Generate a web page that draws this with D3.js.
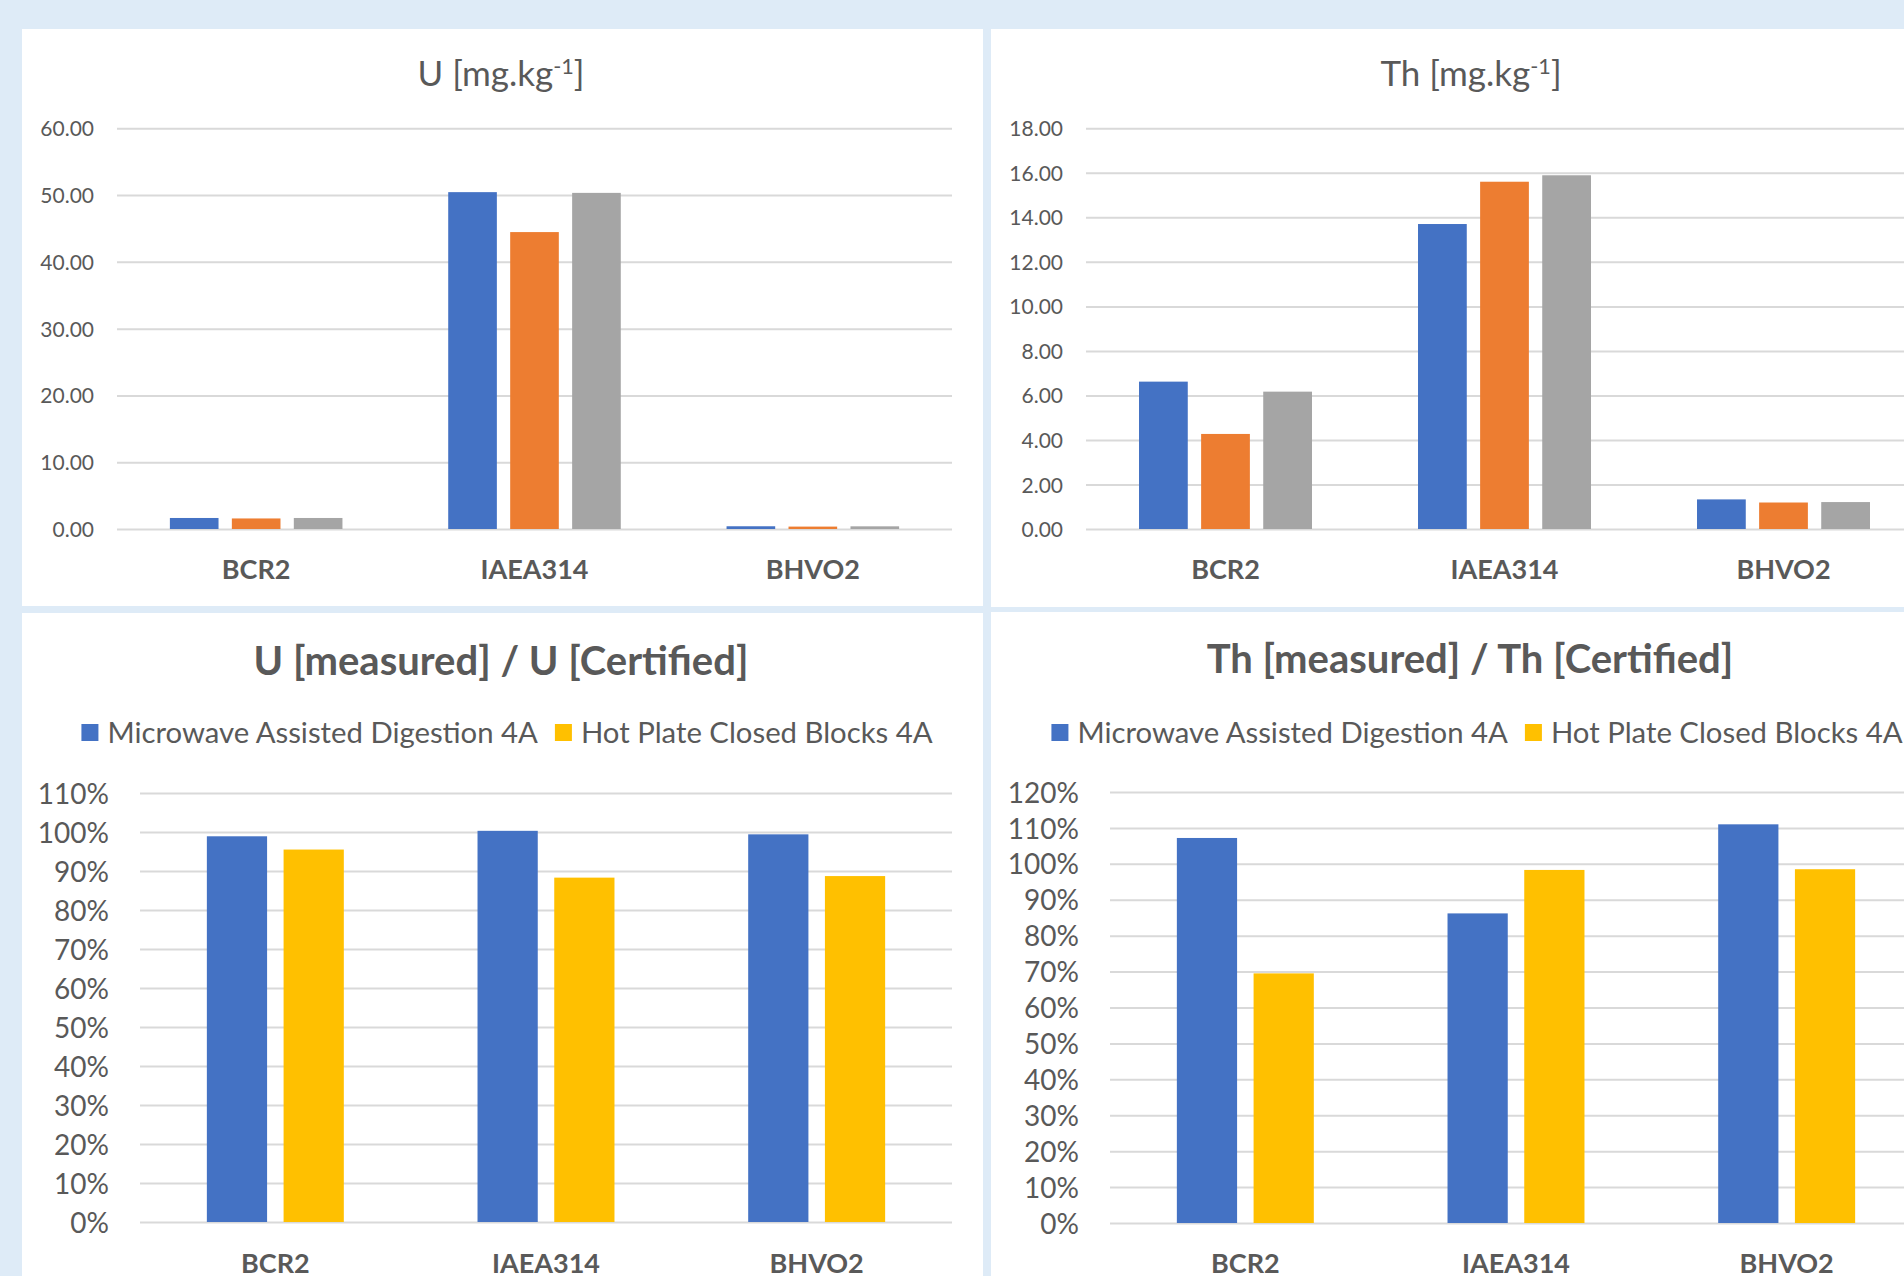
<!DOCTYPE html>
<html>
<head>
<meta charset="utf-8">
<script src="https://cdn.jsdelivr.net/npm/d3@7"></script>
<style>
  html, body { margin: 0; padding: 0; background: #DEEBF7; }
  svg { display: block; }
  text { font-family: Lato, "Open Sans", sans-serif; fill: #595959; }
</style>
</head>
<body>
<svg id="chart" width="1904" height="1276"></svg>
<script>
// ---------------- DATA ----------------
const categories = ["BCR2", "IAEA314", "BHVO2"];

// U [mg.kg-1]
const uMicrowave  = [1.65, 50.44, 0.41];
const uHotPlate   = [1.58, 44.46, 0.36];
const uCertified  = [1.65, 50.33, 0.40];

// Th [mg.kg-1]
const thMicrowave = [6.62, 13.70, 1.33];
const thHotPlate  = [4.27, 15.60, 1.19];
const thCertified = [6.17, 15.89, 1.21];

// U [measured] / U [Certified]
const uRatioMicrowave = [0.989, 1.003, 0.994];
const uRatioHotPlate  = [0.955, 0.883, 0.887];

// Th [measured] / Th [Certified]
const thRatioMicrowave = [1.072, 0.862, 1.110];
const thRatioHotPlate  = [0.695, 0.983, 0.985];

const seriesNames = ["Microwave Assisted Digestion 4A", "Hot Plate Closed Blocks 4A", "Certified"];

const uTicks  = [0, 10, 20, 30, 40, 50, 60];
const thTicks = [0, 2, 4, 6, 8, 10, 12, 14, 16, 18];
const uRatioTicks  = [0, 0.1, 0.2, 0.3, 0.4, 0.5, 0.6, 0.7, 0.8, 0.9, 1.0, 1.1];
const thRatioTicks = [0, 0.1, 0.2, 0.3, 0.4, 0.5, 0.6, 0.7, 0.8, 0.9, 1.0, 1.1, 1.2];

// ---------------- STYLE ----------------
const colors3 = ["#4472C4", "#ED7D31", "#A5A5A5"];
const colors2 = ["#4472C4", "#FFC000"];
const gridColor = "#D9D9D9";
const textColor = "#595959";

const svg = d3.select("#chart");
svg.append("rect").attr("x", 0).attr("y", 0).attr("width", 1904).attr("height", 1276).attr("fill", "#DEEBF7");

function drawPanel(cfg) {
  const g = svg.append("g");
  // panel background
  g.append("rect")
    .attr("x", cfg.panel[0]).attr("y", cfg.panel[1])
    .attr("width", cfg.panel[2]).attr("height", cfg.panel[3])
    .attr("fill", "#FFFFFF");

  const x0 = d3.scaleBand().domain(categories).range(cfg.xRange).paddingInner(0).paddingOuter(0);
  const y = d3.scaleLinear().domain([0, cfg.ticks[cfg.ticks.length - 1]]).range(cfg.yRange);

  const groupW = x0.bandwidth() * cfg.groupFrac;
  const x1 = d3.scaleBand().domain(d3.range(cfg.series.length)).range([0, groupW]).paddingInner(0.215).paddingOuter(0);

  // gridlines + y tick labels
  const yAxis = d3.axisLeft(y)
    .tickValues(cfg.ticks)
    .tickFormat(cfg.fmt)
    .tickSize(-(cfg.xRange[1] - cfg.xRange[0]))
    .tickPadding(cfg.yPad);
  const ya = g.append("g").attr("transform", `translate(${cfg.xRange[0]},0)`).call(yAxis);
  ya.select(".domain").remove();
  ya.selectAll(".tick line").attr("stroke", gridColor).attr("stroke-width", 2);
  ya.selectAll(".tick text")
    .attr("fill", textColor)
    .attr("font-family", "Lato, sans-serif")
    .attr("font-size", cfg.yFont)
    .attr("dy", "0.36em");

  // bars
  cfg.series.forEach((vals, si) => {
    g.append("g").selectAll("rect")
      .data(vals.map((v, i) => ({ cat: categories[i], v })))
      .join("rect")
      .attr("x", d => x0(d.cat) + (x0.bandwidth() - groupW) / 2 + x1(si))
      .attr("width", x1.bandwidth())
      .attr("y", d => y(d.v))
      .attr("height", d => y(0) - y(d.v))
      .attr("fill", cfg.colors[si]);
  });

  // category labels
  const xAxis = d3.axisBottom(x0).tickSize(0).tickPadding(0);
  const xa = g.append("g").attr("transform", `translate(0,${cfg.catY})`).call(xAxis);
  xa.select(".domain").remove();
  xa.selectAll(".tick text")
    .attr("fill", textColor)
    .attr("font-family", "Lato, sans-serif")
    .attr("font-weight", "bold")
    .attr("font-size", cfg.catFont)
    .attr("dy", 0)
    .attr("y", 0);

  // title
  const t = g.append("text")
    .attr("x", cfg.titleX).attr("y", cfg.titleY)
    .attr("text-anchor", "middle")
    .attr("font-size", cfg.titleFont)
    .attr("font-weight", cfg.titleBold ? "bold" : "normal")
    .attr("fill", textColor);
  cfg.title.forEach(part => {
    const ts = t.append("tspan").text(part.t);
    if (part.sup) ts.attr("font-size", cfg.titleFont * 0.62).attr("baseline-shift", "55%");
  });

  // legend
  if (cfg.legend) {
    const lg = g.append("g");
    let cx = 0;
    cfg.legend.forEach((name, i) => {
      const it = lg.append("g").attr("transform", `translate(${cx},0)`);
      it.append("rect").attr("x", 0).attr("y", -19).attr("width", 17).attr("height", 17).attr("fill", cfg.colors[i]);
      const tx = it.append("text").attr("x", 26).attr("y", 0).attr("font-size", cfg.legendFont).attr("fill", textColor).text(name);
      const w = tx.node().getComputedTextLength();
      cx += 26 + w + 17;
    });
    const totalW = cx - 17;
    lg.attr("transform", `translate(${cfg.legendCX - totalW / 2},${cfg.legendY})`);
  }
}

// Top-left: U
drawPanel({
  panel: [22, 29, 961, 577],
  xRange: [117, 952], yRange: [529, 128.3],
  ticks: uTicks, fmt: d3.format(".2f"), yPad: 23, yFont: 21,
  series: [uMicrowave, uHotPlate, uCertified], colors: colors3, groupFrac: 0.62,
  catY: 579, catFont: 27,
  title: [{ t: "U [mg.kg" }, { t: "-1", sup: true }, { t: "]" }], titleX: 501, titleY: 86, titleFont: 35, titleBold: false
});

// Top-right: Th
drawPanel({
  panel: [991, 29, 961, 578],
  xRange: [1086, 1923], yRange: [529, 128.3],
  ticks: thTicks, fmt: d3.format(".2f"), yPad: 23, yFont: 21,
  series: [thMicrowave, thHotPlate, thCertified], colors: colors3, groupFrac: 0.62,
  catY: 579, catFont: 27,
  title: [{ t: "Th [mg.kg" }, { t: "-1", sup: true }, { t: "]" }], titleX: 1471, titleY: 86, titleFont: 35, titleBold: false
});

// Bottom-left: U ratio
drawPanel({
  panel: [22, 613, 961, 700],
  xRange: [140, 952], yRange: [1222, 793],
  ticks: uRatioTicks, fmt: d3.format(".0%"), yPad: 31, yFont: 28,
  series: [uRatioMicrowave, uRatioHotPlate], colors: colors2, groupFrac: 0.506,
  catY: 1273, catFont: 27,
  title: [{ t: "U [measured] / U [Certified]" }], titleX: 501, titleY: 675, titleFont: 40, titleBold: true,
  legend: seriesNames.slice(0, 2), legendCX: 507, legendY: 743, legendFont: 29.3
});

// Bottom-right: Th ratio
drawPanel({
  panel: [991, 612, 961, 700],
  xRange: [1110, 1922], yRange: [1223, 792],
  ticks: thRatioTicks, fmt: d3.format(".0%"), yPad: 31, yFont: 28,
  series: [thRatioMicrowave, thRatioHotPlate], colors: colors2, groupFrac: 0.506,
  catY: 1273, catFont: 27,
  title: [{ t: "Th [measured] / Th [Certified]" }], titleX: 1470, titleY: 673, titleFont: 40, titleBold: true,
  legend: seriesNames.slice(0, 2), legendCX: 1477, legendY: 743, legendFont: 29.3
});
</script>
</body>
</html>
